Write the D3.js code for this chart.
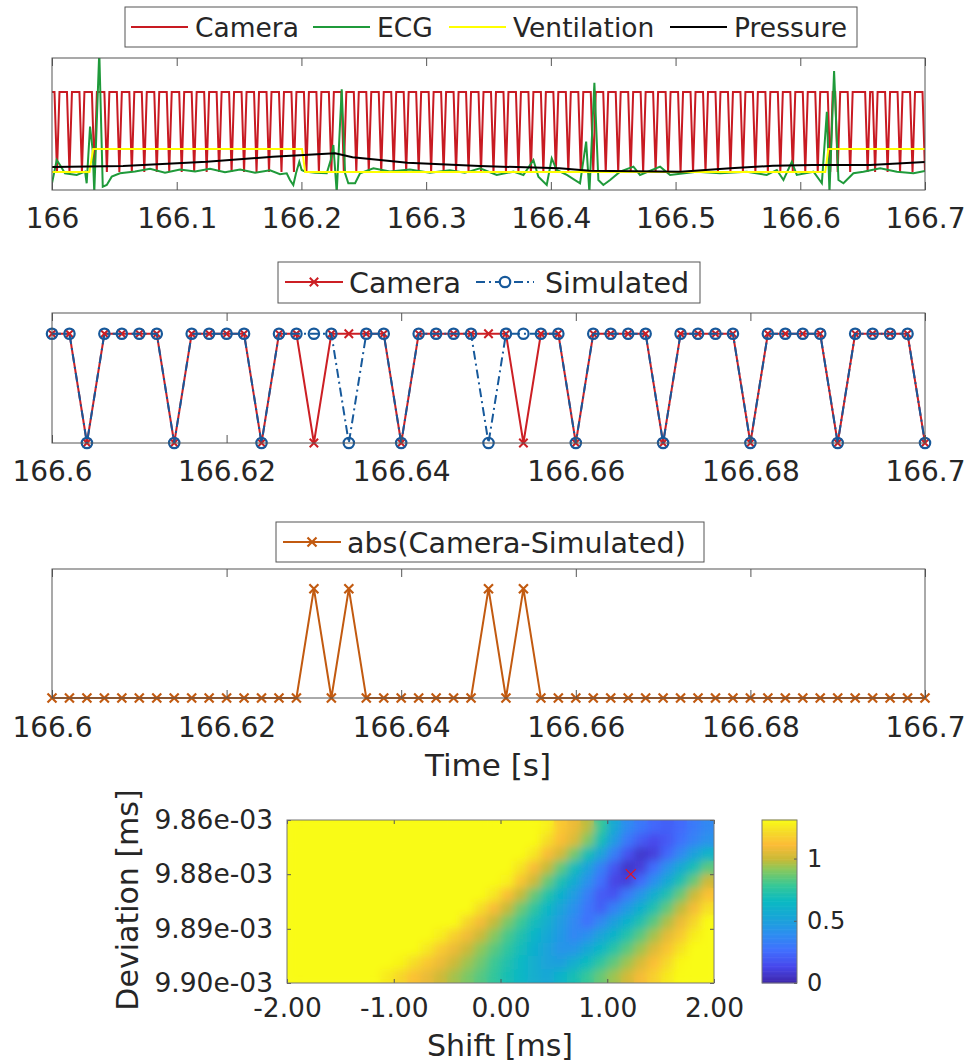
<!DOCTYPE html>
<html>
<head>
<meta charset="utf-8">
<script src="https://d3js.org/d3.v7.min.js"></script>
<style>
  body { margin: 0; background: #fff; }
  text { font-family: "DejaVu Sans", sans-serif; fill: #262626; }
</style>
</head>
<body>
<div id="chart"></div>
<script>
// ---------------- data ----------------
// camera samples, one char per 2 ms from 166.000 s to 166.700 s (1 = bright, 0 = dark)
var cameraStart = 166, cameraStep = 0.002;
var cameraBits = [
  "11011110111101111011110111101111011110111101111011",
  "11011110111101111011110111101111011110111101111011",
  "11011110111101111011110111101111011110111101111011",
  "11011110111101111011110111101111011110111101111011",
  "11011110111101111011110111101111011110111101111011",
  "11011110111101111011110111101111011110111101111011",
  "11011110111101101111011111101101111011110111101111",
  "0"
].join("");
// simulated samples from 166.600 s to 166.700 s
var simulatedBits = "110111101111011110110111101111011110111101111011110";
var cameraLevels = [0.136, 0.742];   // how dark/bright samples sit in the overview panel

var ventTime  = [166, 166.030, 166.033, 166.2005, 166.203, 166.620, 166.6225, 166.7];
var ventValue = [0.136, 0.136, 0.31, 0.31, 0.136, 0.136, 0.31, 0.31];

var pressTime  = [166.000, 166.057, 166.124, 166.177, 166.227, 166.241, 166.285, 166.343,
                  166.407, 166.431, 166.504, 166.544, 166.578, 166.610, 166.656, 166.700];
var pressValue = [0.174, 0.182, 0.214, 0.252, 0.278, 0.248, 0.207, 0.182,
                  0.164, 0.146, 0.139, 0.164, 0.184, 0.189, 0.189, 0.212];

var ecgTime = [166.000, 166.0038, 166.0064, 166.0104, 166.0198, 166.0265, 166.0278, 166.0305,
  166.0326, 166.0339, 166.0379, 166.0407, 166.0439, 166.0479, 166.0545, 166.0666, 166.0786,
  166.0906, 166.1027, 166.1147, 166.1267, 166.1387, 166.1508, 166.1628, 166.1748, 166.1828,
  166.1882, 166.1908, 166.1935, 166.1957, 166.1983, 166.2002, 166.2029, 166.2109, 166.2203,
  166.2235, 166.2256, 166.2283, 166.2323, 166.2350, 166.2376, 166.2430, 166.2470, 166.2577,
  166.2710, 166.2870, 166.3030, 166.3190, 166.3310, 166.3432, 166.3566, 166.3700, 166.3780,
  166.3860, 166.3900, 166.3967, 166.4007, 166.4047, 166.4128, 166.4234, 166.4283, 166.4309,
  166.4349, 166.4381, 166.4421, 166.4475, 166.4555, 166.4662, 166.4715, 166.4876, 166.4956,
  166.5170, 166.5357, 166.5571, 166.5731, 166.5812, 166.5865, 166.5932, 166.5972, 166.6106,
  166.6173, 166.6213, 166.6234, 166.6271, 166.6306, 166.6346, 166.6426, 166.6506, 166.6641,
  166.6774, 166.6908, 166.7000];
var ecgValue = [0.051, 0.227, 0.189, 0.127, 0.114, 0.139, 0.051, 0.48,
  0.303, -0.02, 1.05, 0.025, 0.038, 0.101, 0.127, 0.14, 0.16,
  0.13, 0.155, 0.14, 0.16, 0.135, 0.155, 0.13, 0.15, 0.12,
  0.127, 0.076, 0.038, 0.129, 0.214, 0.152, 0.139, 0.13, 0.127,
  0.227, 0.341, -0.02, 0.763, 0.127, 0.051, 0.051, 0.127, 0.164,
  0.14, 0.155, 0.13, 0.15, 0.13, 0.164, 0.114, 0.139, 0.114,
  0.227, 0.101, 0.038, 0.24, 0.152, 0.114, 0.051, 0.366, -0.02,
  0.813, 0.076, 0.038, 0.076, 0.139, 0.177, 0.114, 0.177, 0.114,
  0.139, 0.127, 0.139, 0.114, 0.152, 0.076, 0.214, 0.114, 0.139,
  0.051, 0.593, -0.02, 0.902, 0.076, 0.051, 0.127, 0.139, 0.164,
  0.139, 0.127, 0.144];

var topTicks = [166, 166.1, 166.2, 166.3, 166.4, 166.5, 166.6, 166.7];
var topLabels = ["166", "166.1", "166.2", "166.3", "166.4", "166.5", "166.6", "166.7"];
var zoomTicks = [166.6, 166.62, 166.64, 166.66, 166.68, 166.7];
var zoomLabels = ["166.6", "166.62", "166.64", "166.66", "166.68", "166.7"];

// cost map: rows from 9.86e-03 (top) to 9.90e-03 (bottom), columns from shift -2 to 2 ms
var costRows = [
  [1.31,1.31,1.31,1.31,1.31,1.31,1.31,1.31,1.31,1.31,1.31,1.31,1.31,1.31,1.31,1.31,1.31,1.31,1.31,1.28,1.15,1.08,0.98,0.78,0.55,0.38,0.30,0.24,0.21,0.25,0.31,0.37],
  [1.31,1.31,1.31,1.31,1.31,1.31,1.31,1.31,1.31,1.31,1.31,1.31,1.31,1.31,1.31,1.31,1.31,1.31,1.31,1.22,1.12,1.04,0.90,0.70,0.47,0.30,0.20,0.14,0.19,0.27,0.35,0.42],
  [1.31,1.31,1.31,1.31,1.31,1.31,1.31,1.31,1.31,1.31,1.31,1.31,1.31,1.31,1.31,1.31,1.31,1.31,1.25,1.11,1.02,0.88,0.70,0.52,0.33,0.17,0.07,0.10,0.24,0.37,0.50,0.62],
  [1.31,1.31,1.31,1.31,1.31,1.31,1.31,1.31,1.31,1.31,1.31,1.31,1.31,1.31,1.31,1.31,1.31,1.24,1.11,0.99,0.85,0.68,0.51,0.34,0.18,0.06,0.10,0.26,0.42,0.56,0.70,0.84],
  [1.31,1.31,1.31,1.31,1.31,1.31,1.31,1.31,1.31,1.31,1.31,1.31,1.31,1.31,1.31,1.31,1.28,1.14,1.01,0.86,0.71,0.57,0.42,0.27,0.12,0.10,0.25,0.40,0.55,0.71,0.86,1.01],
  [1.31,1.31,1.31,1.31,1.31,1.31,1.31,1.31,1.31,1.31,1.31,1.31,1.31,1.31,1.31,1.25,1.12,0.99,0.86,0.73,0.60,0.47,0.33,0.20,0.17,0.31,0.44,0.58,0.72,0.86,1.00,1.13],
  [1.31,1.31,1.31,1.31,1.31,1.31,1.31,1.31,1.31,1.31,1.31,1.31,1.31,1.31,1.22,1.11,0.99,0.87,0.76,0.64,0.52,0.41,0.29,0.21,0.34,0.46,0.59,0.72,0.85,0.98,1.10,1.23],
  [1.31,1.31,1.31,1.31,1.31,1.31,1.31,1.31,1.31,1.31,1.31,1.31,1.31,1.20,1.10,0.99,0.89,0.79,0.68,0.58,0.47,0.37,0.27,0.37,0.49,0.61,0.72,0.84,0.96,1.08,1.20,1.31],
  [1.31,1.31,1.31,1.31,1.31,1.31,1.31,1.31,1.31,1.31,1.31,1.27,1.18,1.09,1.00,0.91,0.81,0.72,0.63,0.54,0.45,0.36,0.41,0.52,0.62,0.73,0.84,0.95,1.06,1.16,1.27,1.31],
  [1.31,1.31,1.31,1.31,1.31,1.31,1.31,1.31,1.31,1.31,1.25,1.16,1.08,1.00,0.92,0.84,0.76,0.68,0.59,0.51,0.43,0.44,0.54,0.64,0.74,0.84,0.94,1.04,1.14,1.24,1.31,1.31],
  [1.31,1.31,1.31,1.31,1.31,1.31,1.31,1.31,1.29,1.22,1.15,1.08,1.01,0.94,0.87,0.79,0.72,0.65,0.58,0.51,0.49,0.58,0.67,0.76,0.85,0.94,1.03,1.12,1.21,1.30,1.31,1.31],
  [1.31,1.31,1.31,1.31,1.31,1.31,1.31,1.26,1.20,1.13,1.07,1.01,0.95,0.89,0.83,0.77,0.70,0.64,0.58,0.54,0.62,0.70,0.78,0.86,0.94,1.02,1.10,1.18,1.26,1.31,1.31,1.31]
];
var shiftTicks = [-2, -1, 0, 1, 2];
var devTicks = [9.86e-3, 9.8733e-3, 9.8867e-3, 9.90e-3];
var devLabels = ["9.86e-03", "9.88e-03", "9.89e-03", "9.90e-03"];
var bestShift = 1.22, bestDev = 9.8733e-3;
var colorbarTicks = [0, 0.5, 1];

// parula-like colour stops
var parulaStops = [0, 0.1, 0.2, 0.3, 0.4, 0.5, 0.6, 0.7, 0.76, 0.85, 0.93, 1];
var parulaColors = ["#3e26a8", "#4747eb", "#416ffe", "#2d8ef0", "#19a5d7", "#0ab9c3",
                    "#37c896", "#8cc85a", "#c8ba37", "#fcbc37", "#f5dc28", "#f9fb14"];

// ---------------- drawing ----------------
var axisColor = "#555", textColor = "#262626";
var svg = d3.select("#chart").append("svg").attr("width", 972).attr("height", 1064);
var defs = svg.append("defs");

var P1 = { left: 52, right: 925, top: 58, bottom: 190 };
var P2 = { left: 52, right: 925, top: 313, bottom: 443 };
var P3 = { left: 52, right: 925, top: 569, bottom: 698 };
var HM = { left: 287, right: 714, top: 820, bottom: 983 };
var CB = { left: 762, right: 797, top: 820, bottom: 983 };

function styleAxis(g, size) {
  g.attr("color", axisColor).attr("font-family", null).attr("font-size", size);
  g.select(".domain").remove();
  g.selectAll("text").style("fill", textColor);
}

function timeFrame(p, x, ticks, labels, pad) {
  svg.append("g").attr("transform", "translate(0," + p.bottom + ")")
    .call(d3.axisBottom(x).tickValues(ticks).tickFormat(function (d, i) { return labels[i]; })
      .tickSizeInner(-8).tickSizeOuter(0).tickPadding(pad))
    .call(styleAxis, 28);
  svg.append("g").attr("transform", "translate(0," + p.top + ")")
    .call(d3.axisTop(x).tickValues(ticks).tickFormat("").tickSizeInner(-8).tickSizeOuter(0))
    .call(styleAxis, 28);
  svg.append("rect").attr("x", p.left).attr("y", p.top)
    .attr("width", p.right - p.left).attr("height", p.bottom - p.top)
    .attr("fill", "none").attr("stroke", axisColor).attr("stroke-width", 1);
}

function clipFor(id, p) {
  defs.append("clipPath").attr("id", id).append("rect")
    .attr("x", p.left).attr("y", p.top).attr("width", p.right - p.left).attr("height", p.bottom - p.top);
  return "url(#" + id + ")";
}

function crossPath(s) {
  return "M" + (-s) + "," + (-s) + "L" + s + "," + s + "M" + (-s) + "," + s + "L" + s + "," + (-s);
}

var camera = cameraBits.split("").map(function (b, n) {
  return { n: n, t: cameraStart + n * cameraStep, b: +b };
});

// ---- panel 1: overview ----
var x1 = d3.scaleLinear().domain([166, 166.7]).range([P1.left, P1.right]);
var y1 = d3.scaleLinear().domain([0, 1]).range([P1.bottom, P1.top]);
var g1 = svg.append("g").attr("clip-path", clipFor("c1", P1));
var line1 = d3.line().x(function (d) { return x1(d[0]); }).y(function (d) { return y1(d[1]); });

g1.append("path").attr("d", line1(camera.map(function (d) { return [d.t, cameraLevels[d.b]]; })))
  .attr("fill", "none").attr("stroke", "#c81a22").attr("stroke-width", 2);
g1.append("path").attr("d", line1(d3.zip(ecgTime, ecgValue)))
  .attr("fill", "none").attr("stroke", "#1f9a3a").attr("stroke-width", 2);
g1.append("path").attr("d", line1(d3.zip(ventTime, ventValue)))
  .attr("fill", "none").attr("stroke", "#ffff00").attr("stroke-width", 2);
g1.append("path").attr("d", line1(d3.zip(pressTime, pressValue)))
  .attr("fill", "none").attr("stroke", "#000").attr("stroke-width", 2);
timeFrame(P1, x1, topTicks, topLabels, 18);

// legend 1
var leg1 = svg.append("g");
leg1.append("rect").attr("x", 125).attr("y", 7).attr("width", 732).attr("height", 40)
  .attr("fill", "#fff").attr("stroke", axisColor);
[
  { name: "Camera", color: "#c81a22", x: 131 },
  { name: "ECG", color: "#1f9a3a", x: 313 },
  { name: "Ventilation", color: "#ffff00", x: 449 },
  { name: "Pressure", color: "#000", x: 670 }
].forEach(function (it) {
  leg1.append("line").attr("x1", it.x).attr("x2", it.x + 57).attr("y1", 27).attr("y2", 27)
    .attr("stroke", it.color).attr("stroke-width", 2);
  leg1.append("text").attr("x", it.x + 64).attr("y", 36.5).attr("font-size", 26.5).text(it.name);
});

// ---- panel 2: camera vs simulated ----
var x2 = d3.scaleLinear().domain([166.6, 166.7]).range([P2.left, P2.right]);
var y2 = d3.scaleLinear().domain([0, 1.19]).range([P2.bottom, P2.top]);
var zoomCam = camera.filter(function (d) { return d.t >= 166.6 - 1e-9; });
var zoomSim = simulatedBits.split("").map(function (b, i) { return { t: zoomCam[i].t, b: +b }; });
var line2 = d3.line().x(function (d) { return x2(d.t); }).y(function (d) { return y2(d.b); });
var g2 = svg.append("g");
g2.append("path").attr("d", line2(zoomCam)).attr("fill", "none")
  .attr("stroke", "#cc1f24").attr("stroke-width", 2);
g2.selectAll(".cx").data(zoomCam).enter().append("path")
  .attr("transform", function (d) { return "translate(" + x2(d.t) + "," + y2(d.b) + ")"; })
  .attr("d", crossPath(4.2)).attr("stroke", "#cc1f24").attr("stroke-width", 2);
g2.append("path").attr("d", line2(zoomSim)).attr("fill", "none")
  .attr("stroke", "#17599b").attr("stroke-width", 2).attr("stroke-dasharray", "9,4,2,4");
g2.selectAll(".co").data(zoomSim).enter().append("circle")
  .attr("cx", function (d) { return x2(d.t); }).attr("cy", function (d) { return y2(d.b); })
  .attr("r", 5.2).attr("fill", "none").attr("stroke", "#17599b").attr("stroke-width", 2.2);
timeFrame(P2, x2, zoomTicks, zoomLabels, 18);

var leg2 = svg.append("g");
leg2.append("rect").attr("x", 278).attr("y", 262).attr("width", 422).attr("height", 41)
  .attr("fill", "#fff").attr("stroke", axisColor);
leg2.append("line").attr("x1", 285).attr("x2", 343).attr("y1", 282).attr("y2", 282)
  .attr("stroke", "#cc1f24").attr("stroke-width", 2);
leg2.append("path").attr("transform", "translate(314,282)").attr("d", crossPath(4.2))
  .attr("stroke", "#cc1f24").attr("stroke-width", 2);
leg2.append("text").attr("x", 349).attr("y", 292.5).attr("font-size", 28.5).text("Camera");
leg2.append("line").attr("x1", 476).attr("x2", 534).attr("y1", 282).attr("y2", 282)
  .attr("stroke", "#17599b").attr("stroke-width", 2).attr("stroke-dasharray", "9,4,2,4");
leg2.append("circle").attr("cx", 505).attr("cy", 282).attr("r", 5.2)
  .attr("fill", "#fff").attr("stroke", "#17599b").attr("stroke-width", 2.2);
leg2.append("text").attr("x", 545).attr("y", 292.5).attr("font-size", 28.5).text("Simulated");

// ---- panel 3: abs difference ----
var x3 = d3.scaleLinear().domain([166.6, 166.7]).range([P3.left, P3.right]);
var y3 = d3.scaleLinear().domain([0, 1.18]).range([P3.bottom, P3.top]);
var diff = zoomCam.map(function (d, i) { return { t: d.t, v: Math.abs(d.b - zoomSim[i].b) }; });
var g3 = svg.append("g");
g3.append("path").attr("d", d3.line().x(function (d) { return x3(d.t); }).y(function (d) { return y3(d.v); })(diff))
  .attr("fill", "none").attr("stroke", "#c25a10").attr("stroke-width", 2);
g3.selectAll(".dx").data(diff).enter().append("path")
  .attr("transform", function (d) { return "translate(" + x3(d.t) + "," + y3(d.v) + ")"; })
  .attr("d", crossPath(4.5)).attr("stroke", "#c25a10").attr("stroke-width", 2.2);
timeFrame(P3, x3, zoomTicks, zoomLabels, 19);

var leg3 = svg.append("g");
leg3.append("rect").attr("x", 276).attr("y", 522).attr("width", 428).attr("height", 40)
  .attr("fill", "#fff").attr("stroke", axisColor);
leg3.append("line").attr("x1", 283).attr("x2", 341).attr("y1", 542).attr("y2", 542)
  .attr("stroke", "#c25a10").attr("stroke-width", 2);
leg3.append("path").attr("transform", "translate(312,542)").attr("d", crossPath(4.5))
  .attr("stroke", "#c25a10").attr("stroke-width", 2.2);
leg3.append("text").attr("x", 347).attr("y", 552.5).attr("font-size", 28.5).text("abs(Camera-Simulated)");

svg.append("text").attr("x", 488).attr("y", 776).attr("text-anchor", "middle")
  .attr("font-size", 31).text("Time [s]");

// ---- heat map ----
var colorScale = d3.scaleLinear()
  .domain(parulaStops.map(function (s) { return s * 1.31; }))
  .range(parulaColors).clamp(true);
var xHM = d3.scaleLinear().domain([-2, 2]).range([HM.left, HM.right]);
var yHM = d3.scaleLinear().domain([9.86e-3, 9.90e-3]).range([HM.top, HM.bottom]);
var colBand = d3.scaleBand().domain(d3.range(costRows[0].length)).range([HM.left, HM.right]);
var rowBand = d3.scaleBand().domain(d3.range(costRows.length)).range([HM.top, HM.bottom]);

// soften the coarse cells a little so the map reads like the finer original
var soft = defs.append("filter").attr("id", "soft")
  .attr("filterUnits", "userSpaceOnUse")
  .attr("x", HM.left).attr("y", HM.top)
  .attr("width", HM.right - HM.left).attr("height", HM.bottom - HM.top);
soft.append("feGaussianBlur").attr("stdDeviation", 4).attr("edgeMode", "duplicate");

var cells = [];
costRows.forEach(function (row, r) { row.forEach(function (v, c) { cells.push({ r: r, c: c, v: v }); }); });
var hmClip = svg.append("g").attr("clip-path", clipFor("chm", HM));
function drawCells(g) {
  g.selectAll("rect").data(cells).enter().append("rect")
    .attr("x", function (d) { return colBand(d.c); })
    .attr("y", function (d) { return rowBand(d.r); })
    .attr("width", colBand.bandwidth() + 0.6)
    .attr("height", rowBand.bandwidth() + 0.6)
    .attr("fill", function (d) { return colorScale(d.v); });
}
drawCells(hmClip.append("g"));                          // plain cells underneath
drawCells(hmClip.append("g").attr("filter", "url(#soft)"));

svg.append("path")
  .attr("transform", "translate(" + xHM(bestShift) + "," + yHM(bestDev) + ")")
  .attr("d", crossPath(5)).attr("stroke", "#e8141e").attr("stroke-width", 1.2).attr("fill", "none");

svg.append("g").attr("transform", "translate(0," + HM.bottom + ")")
  .call(d3.axisBottom(xHM).tickValues(shiftTicks).tickFormat(function (d) { return d.toFixed(2); })
    .tickSizeInner(-4).tickSizeOuter(0).tickPadding(15))
  .call(styleAxis, 26.5);
svg.append("g").attr("transform", "translate(0," + HM.top + ")")
  .call(d3.axisTop(xHM).tickValues(shiftTicks).tickFormat("").tickSizeInner(-4).tickSizeOuter(0))
  .call(styleAxis, 26.5);
svg.append("g").attr("transform", "translate(" + HM.left + ",0)")
  .call(d3.axisLeft(yHM).tickValues(devTicks).tickFormat(function (d, i) { return devLabels[i]; })
    .tickSizeInner(-4).tickSizeOuter(0).tickPadding(14))
  .call(styleAxis, 26.5);
svg.append("g").attr("transform", "translate(" + HM.right + ",0)")
  .call(d3.axisRight(yHM).tickValues(devTicks).tickFormat("").tickSizeInner(-4).tickSizeOuter(0))
  .call(styleAxis, 26.5);
svg.append("rect").attr("x", HM.left).attr("y", HM.top)
  .attr("width", HM.right - HM.left).attr("height", HM.bottom - HM.top)
  .attr("fill", "none").attr("stroke", "#777");

svg.append("text").attr("x", 500).attr("y", 1056).attr("text-anchor", "middle")
  .attr("font-size", 30).text("Shift [ms]");
svg.append("text").attr("transform", "translate(138,900) rotate(-90)").attr("text-anchor", "middle")
  .attr("font-size", 30).text("Deviation [ms]");

// ---- colour bar ----
var yCB = d3.scaleLinear().domain([0, 1.31]).range([CB.bottom, CB.top]);
var cbSteps = d3.range(0, 1.31, 1.31 / 128);
svg.append("g").selectAll("rect").data(cbSteps).enter().append("rect")
  .attr("x", CB.left).attr("width", CB.right - CB.left)
  .attr("y", function (d) { return yCB(d + 1.31 / 128) - 0.3; })
  .attr("height", yCB(0) - yCB(1.31 / 128) + 0.6)
  .attr("fill", function (d) { return colorScale(d + 0.5 * 1.31 / 128); });
svg.append("g").attr("transform", "translate(" + CB.right + ",0)")
  .call(d3.axisRight(yCB).tickValues(colorbarTicks).tickFormat(d3.format(""))
    .tickSizeInner(-3).tickSizeOuter(0).tickPadding(10))
  .call(styleAxis, 24);
svg.append("rect").attr("x", CB.left).attr("y", CB.top)
  .attr("width", CB.right - CB.left).attr("height", CB.bottom - CB.top)
  .attr("fill", "none").attr("stroke", "#777");
</script>
</body>
</html>
